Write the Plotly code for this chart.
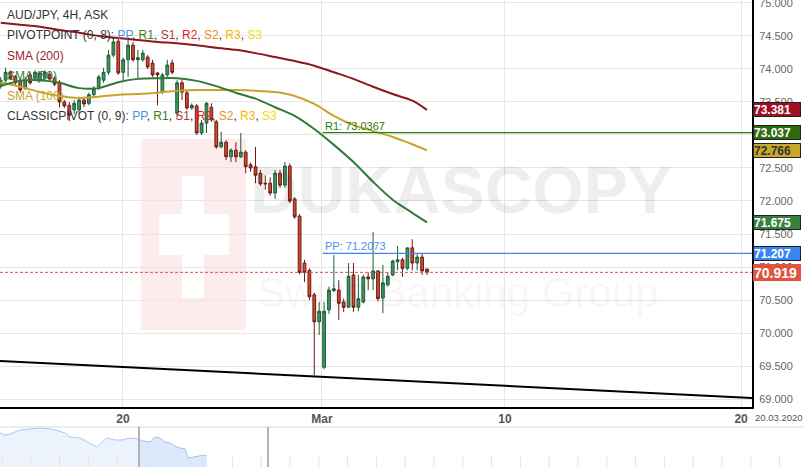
import plotly.graph_objects as go

W, H = 803, 467
FONT = "Liberation Sans, Arial, sans-serif"

# ---------------- data ----------------
opens = [73.74, 73.83, 73.95, 73.88, 73.83, 73.71, 73.91, 73.86, 73.83, 73.86,
         73.92, 73.86, 73.80, 73.50, 73.45, 73.38, 73.38, 73.53, 73.48, 73.61,
         73.73, 73.83, 73.95, 74.21, 74.42, 73.95, 74.14, 74.36, 74.14, 74.14,
         74.18, 74.09, 73.94, 73.65, 73.91, 74.09, 73.33, 73.79, 73.64, 73.41,
         73.44, 73.03, 73.18, 73.42, 73.20, 72.82, 72.89, 72.67, 72.77, 72.67,
         72.74, 72.55, 72.52, 72.42, 72.27, 72.27, 72.12, 72.42, 72.24, 72.53,
         72.03, 71.77, 71.06, 70.95, 70.58, 70.17, 69.48, 70.35, 70.64, 70.65,
         70.47, 70.39, 70.88, 70.39, 70.47, 70.85, 70.82, 70.94, 70.53, 70.73,
         70.88, 71.08, 71.11, 70.98, 71.29, 71.06, 71.15, 70.97]
highs = [73.88, 74.02, 73.98, 73.91, 73.86, 73.88, 73.95, 73.98, 73.97, 73.98,
         73.95, 73.89, 73.83, 73.53, 73.50, 73.53, 73.58, 73.58, 73.64, 73.74,
         73.91, 74.02, 74.29, 74.47, 74.47, 74.17, 74.48, 74.41, 74.29, 74.29,
         74.21, 74.14, 73.95, 73.94, 74.14, 74.14, 73.83, 73.83, 73.68, 73.48,
         73.47, 73.23, 73.50, 73.48, 73.23, 73.05, 72.92, 72.80, 72.89, 73.03,
         72.77, 72.58, 72.82, 72.47, 72.39, 72.36, 72.47, 72.47, 72.59, 72.57,
         72.06, 71.80, 71.11, 70.98, 70.61, 70.47, 70.47, 70.70, 71.18, 70.80,
         70.52, 71.06, 71.06, 70.88, 70.88, 70.92, 71.53, 70.95, 71.03, 70.92,
         71.11, 71.32, 71.14, 71.29, 71.42, 71.21, 71.21, 70.97]
lows = [73.70, 73.76, 73.83, 73.74, 73.64, 73.68, 73.76, 73.83, 73.80, 73.83,
        73.82, 73.74, 73.42, 73.41, 73.21, 73.32, 73.33, 73.42, 73.45, 73.56,
        73.68, 73.79, 73.91, 74.18, 73.91, 73.83, 73.88, 74.11, 73.86, 74.11,
        74.00, 73.88, 73.45, 73.62, 73.88, 73.92, 73.27, 73.53, 73.38, 73.38,
        73.00, 73.00, 73.03, 73.20, 72.79, 72.80, 72.62, 72.59, 72.59, 72.65,
        72.42, 72.44, 72.27, 72.23, 72.17, 72.08, 72.03, 72.20, 72.20, 71.97,
        71.73, 70.89, 70.77, 70.50, 69.36, 69.97, 69.45, 70.29, 70.62, 70.20,
        70.32, 70.38, 70.32, 70.33, 70.45, 70.65, 70.65, 70.48, 70.30, 70.70,
        70.86, 70.95, 70.85, 70.95, 70.95, 70.95, 70.88, 70.88]
closes = [73.83, 73.95, 73.86, 73.79, 73.68, 73.83, 73.79, 73.95, 73.94, 73.95,
          73.85, 73.77, 73.50, 73.44, 73.30, 73.48, 73.53, 73.47, 73.61, 73.71,
          73.88, 73.95, 74.21, 74.41, 73.94, 74.14, 74.36, 74.14, 74.17, 74.24,
          74.03, 73.91, 73.91, 73.91, 74.06, 73.95, 73.79, 73.65, 73.41, 73.45,
          73.03, 73.18, 73.48, 73.23, 72.82, 72.89, 72.67, 72.77, 72.67, 72.74,
          72.52, 72.50, 72.39, 72.26, 72.26, 72.12, 72.42, 72.24, 72.53, 72.00,
          71.76, 70.92, 70.92, 70.55, 70.17, 70.33, 70.33, 70.65, 70.67, 70.45,
          70.39, 70.86, 70.39, 70.52, 70.85, 70.82, 70.94, 70.52, 70.76, 70.86,
          71.09, 71.11, 70.98, 71.29, 71.06, 71.15, 70.94, 70.92]
candle_idx = list(range(len(opens)))

# moving averages read at sampled candles
sma_idx = [0, 4, 8, 12, 16, 20, 24, 28, 32, 36, 40, 44, 48, 52, 56, 60, 64, 68, 72, 76, 80, 84, 87]
sma200 = [74.70, 74.67, 74.64, 74.59, 74.55, 74.50, 74.47, 74.44, 74.41, 74.39, 74.36, 74.32,
          74.29, 74.24, 74.18, 74.12, 74.05, 73.95, 73.85, 73.73, 73.62, 73.52, 73.381]
sma50 = [73.74, 73.82, 73.83, 73.79, 73.71, 73.71, 73.80, 73.85, 73.86, 73.86, 73.82, 73.74,
         73.64, 73.55, 73.42, 73.29, 73.09, 72.85, 72.59, 72.29, 72.02, 71.82, 71.675]
sma100 = [73.80, 73.73, 73.65, 73.59, 73.56, 73.58, 73.61, 73.62, 73.64, 73.67, 73.68, 73.68,
          73.68, 73.67, 73.65, 73.59, 73.47, 73.29, 73.15, 73.06, 72.97, 72.86, 72.766]

pivot_r1 = 73.0367
pivot_pp = 71.2073
current_price = 70.919

trend_idx = [-0.14, 153.33]
trend_val = [69.576, 69.015]

x_range = [-0.14, 153.33]
y_range = [68.879, 75.045]
tick_pos = [24.96, 65.57, 102.9, 151.1]
tick_text = ["20", "Mar", "10", "20"]
pivot_start = 65.7
y_ticks = [69.0, 69.5, 70.0, 70.5, 71.0, 71.5, 72.0, 72.5, 73.0, 73.5, 74.0, 74.5, 75.0]
y_ticktext = ["%.3f" % v for v in y_ticks]

# navigator (long history, days)
nav_day = [0, 1.3, 2.7, 4.0, 5.3, 8.0, 10.7, 13.4, 14.7, 17.4, 18.7, 21.4, 24.1, 25.9, 27.3,
           28.6, 30.7, 32.6, 34.8, 36.9, 38.2, 40.1, 41.4, 42.8, 44.1, 45.5, 46.8, 48.1,
           49.5, 50.3, 51.6, 53.5, 54.8, 55.3]
nav_price = [75.05, 74.67, 74.86, 75.24, 75.62, 75.81, 76.0, 75.81, 75.62, 75.05, 74.29, 74.1,
             73.15, 72.39, 73.34, 74.1, 73.72, 73.72, 74.1, 73.91, 73.53, 73.34, 74.29, 74.1,
             73.34, 73.15, 72.58, 72.2, 72.01, 70.3, 70.49, 70.68, 70.87, 70.68]
nav_window = [37.17, 71.66]

# ---------------- helpers ----------------
def px_x(p):
    return p / W

def px_y(p):
    return 1 - p / H

main_dom_x = [0, 752 / W]
main_dom_y = [px_y(407), 1]
nav_dom_y = [0, px_y(427)]

fig = go.Figure()

fig.add_trace(go.Candlestick(
    x=candle_idx, open=opens, high=highs, low=lows, close=closes,
    increasing=dict(line=dict(color="#1f5c36", width=1), fillcolor="#3f9464"),
    decreasing=dict(line=dict(color="#6b1a10", width=1), fillcolor="#d04a35"),
    whiskerwidth=0, showlegend=False, hoverinfo="skip",
))

for vals, col in [(sma200, "#8e1522"), (sma100, "#c8a52a"), (sma50, "#2f7a35")]:
    fig.add_trace(go.Scatter(x=sma_idx, y=vals, mode="lines",
                             line=dict(color=col, width=2, shape="spline", smoothing=0.8),
                             showlegend=False, hoverinfo="skip"))

for val, col in [(pivot_r1, "#2c7a12"), (pivot_pp, "#3d85f0")]:
    fig.add_trace(go.Scatter(x=[pivot_start, x_range[1]], y=[val, val], mode="lines",
                             line=dict(color=col, width=1.3), showlegend=False, hoverinfo="skip"))

fig.add_trace(go.Scatter(x=x_range, y=[current_price, current_price], mode="lines",
                         line=dict(color="#d9534f", width=1, dash="3px,2px"),
                         showlegend=False, hoverinfo="skip"))

fig.add_trace(go.Scatter(x=trend_idx, y=trend_val, mode="lines",
                         line=dict(color="black", width=2), showlegend=False, hoverinfo="skip"))

# navigator traces
nav_a_x = [d for d in nav_day if d <= nav_window[0]]
nav_a_y = nav_price[:len(nav_a_x)]
nav_b_x = nav_day[len(nav_a_x) - 1:]
nav_b_y = nav_price[len(nav_a_x) - 1:]
fig.add_trace(go.Scatter(x=nav_a_x, y=nav_a_y, xaxis="x2", yaxis="y2", mode="lines",
                         fill="tozeroy", fillcolor="#edf3fd",
                         line=dict(color="#a9c8f3", width=1), showlegend=False, hoverinfo="skip"))
fig.add_trace(go.Scatter(x=nav_b_x, y=nav_b_y, xaxis="x2", yaxis="y2", mode="lines",
                         fill="tozeroy", fillcolor="#dce8fb",
                         line=dict(color="#9fc0f0", width=1), showlegend=False, hoverinfo="skip"))

shapes = []
# watermark logo
shapes.append(dict(type="rect", xref="paper", yref="paper", x0=px_x(141), x1=px_x(246),
                   y0=px_y(330), y1=px_y(139), fillcolor="#fcecec", line=dict(width=0), layer="below"))
shapes.append(dict(type="rect", xref="paper", yref="paper", x0=px_x(182), x1=px_x(204),
                   y0=px_y(298), y1=px_y(176), fillcolor="#ffffff", line=dict(width=0), layer="below"))
shapes.append(dict(type="rect", xref="paper", yref="paper", x0=px_x(159), x1=px_x(229),
                   y0=px_y(255), y1=px_y(214), fillcolor="#ffffff", line=dict(width=0), layer="below"))
# navigator decorations
shapes.append(dict(type="line", xref="paper", yref="paper", x0=0, x1=1, y0=px_y(427), y1=px_y(427),
                   line=dict(color="#d9d9d9", width=1)))
k = 0
while 2 + 28.8 * k < W:
    xx = px_x(2 + 28.8 * k)
    shapes.append(dict(type="line", xref="paper", yref="paper", x0=xx, x1=xx,
                       y0=0, y1=px_y(455), line=dict(color="#e3e3e3", width=1)))
    k += 1
for d in nav_window:
    shapes.append(dict(type="line", xref="x2", yref="paper", x0=d, x1=d, y0=0, y1=px_y(427),
                       line=dict(color="#b3b3b3", width=2)))

annotations = []
def legend_text(y_px, text, color="#333333"):
    annotations.append(dict(xref="paper", yref="paper", x=px_x(5), y=px_y(y_px), text=text,
                            showarrow=False, xanchor="left", yanchor="middle",
                            font=dict(family=FONT, size=12, color=color)))

piv = ('<span style="color:#4a90e2">PP</span>, <span style="color:#3a7d1a">R1</span>, '
       '<span style="color:#b8322a">S1</span>, <span style="color:#e52222">R2</span>, '
       '<span style="color:#f08a24">S2</span>, <span style="color:#f5b400">R3</span>, '
       '<span style="color:#efe000">S3</span>')
legend_text(15, "AUD/JPY, 4H, ASK")
legend_text(35, "PIVOTPOINT (0, 8): " + piv)
legend_text(56, "SMA (200)", "#9b2233")
legend_text(76, "SMA (50)", "#3a8040")
legend_text(96, "SMA (100)", "#c8a52a")
legend_text(116, "CLASSICPIVOT (0, 9): " + piv)

# pivot labels
annotations.append(dict(xref="x", yref="y", x=pivot_start, y=pivot_r1, text="R1: %.4f" % pivot_r1,
                        showarrow=False, xanchor="left", yanchor="bottom", yshift=-1,
                        font=dict(family=FONT, size=11, color="#2c7a12")))
annotations.append(dict(xref="x", yref="y", x=pivot_start, y=pivot_pp, text="PP: %.4f" % pivot_pp,
                        showarrow=False, xanchor="left", yanchor="bottom", yshift=-1,
                        font=dict(family=FONT, size=11, color="#4a8ff0")))

# watermark text
annotations.append(dict(xref="paper", yref="paper", x=px_x(461), y=px_y(190), text="<b>DUKASCOPY</b>",
                        showarrow=False, xanchor="center", yanchor="middle",
                        font=dict(family=FONT, size=66, color="rgba(0,0,0,0.065)")))
annotations.append(dict(xref="paper", yref="paper", x=px_x(458), y=px_y(292), text="Swiss Banking Group",
                        showarrow=False, xanchor="center", yanchor="middle",
                        font=dict(family=FONT, size=42, color="rgba(0,0,0,0.05)")))

# right-side value boxes
boxes = [(sma200[-1], "#9c1020", "white", "#222222", 12),
         (pivot_r1, "#2e6b0c", "white", "#222222", 12),
         (sma100[-1], "#c9a92a", "#333333", "#222222", 12),
         (sma50[-1], "#3a7f40", "white", "#222222", 12),
         (pivot_pp, "#3a86f0", "white", "#222222", 12),
         (current_price, "#e0533d", "white", "#e0533d", 14)]
for val, bg, fc, bc, fs in boxes:
    annotations.append(dict(xref="paper", yref="y", x=px_x(753), y=val, text="<b>%.3f</b>" % val,
                            showarrow=False, xanchor="left", yanchor="middle", align="left",
                            width=46, height=fs + 1, bgcolor=bg, bordercolor=bc, borderwidth=1,
                            borderpad=0, font=dict(family=FONT, size=fs, color=fc)))

annotations.append(dict(xref="paper", yref="paper", x=px_x(753), y=px_y(417), text="20.03.2020",
                        showarrow=False, xanchor="left", yanchor="middle",
                        font=dict(family=FONT, size=9.5, color="#555555")))

fig.update_layout(
    width=W, height=H,
    margin=dict(l=0, r=0, t=0, b=0, pad=0, autoexpand=False),
    paper_bgcolor="white", plot_bgcolor="white",
    showlegend=False, boxgap=0.2,
    font=dict(family=FONT),
    xaxis=dict(domain=main_dom_x, range=x_range, rangeslider=dict(visible=False),
               tickvals=tick_pos, ticktext=tick_text, showgrid=True, gridcolor="#e6e6e6",
               showline=True, linecolor="black", linewidth=2, ticks="", zeroline=False,
               tickfont=dict(family=FONT, size=12, color="#555555", weight="bold"),
               anchor="y", automargin=False),
    yaxis=dict(domain=main_dom_y, range=y_range, side="right", anchor="x",
               tickvals=y_ticks, ticktext=y_ticktext, showgrid=True, gridcolor="#e6e6e6",
               showline=True, linecolor="black", linewidth=2, ticks="", zeroline=False,
               tickfont=dict(family=FONT, size=11, color="#666666"), ticklabelstandoff=3,
               ticklabeloverflow="allow", automargin=False),
    xaxis2=dict(domain=[0, 1], range=[0, W / 3.74], visible=False, anchor="y2", automargin=False),
    yaxis2=dict(domain=nav_dom_y, range=[68.59, 76.19], visible=False, anchor="x2", automargin=False),
    shapes=shapes, annotations=annotations,
)

fig.write_html("out.html", config={"displayModeBar": False},
               post_script="document.body.style.margin='0';document.body.style.overflow='hidden';")
